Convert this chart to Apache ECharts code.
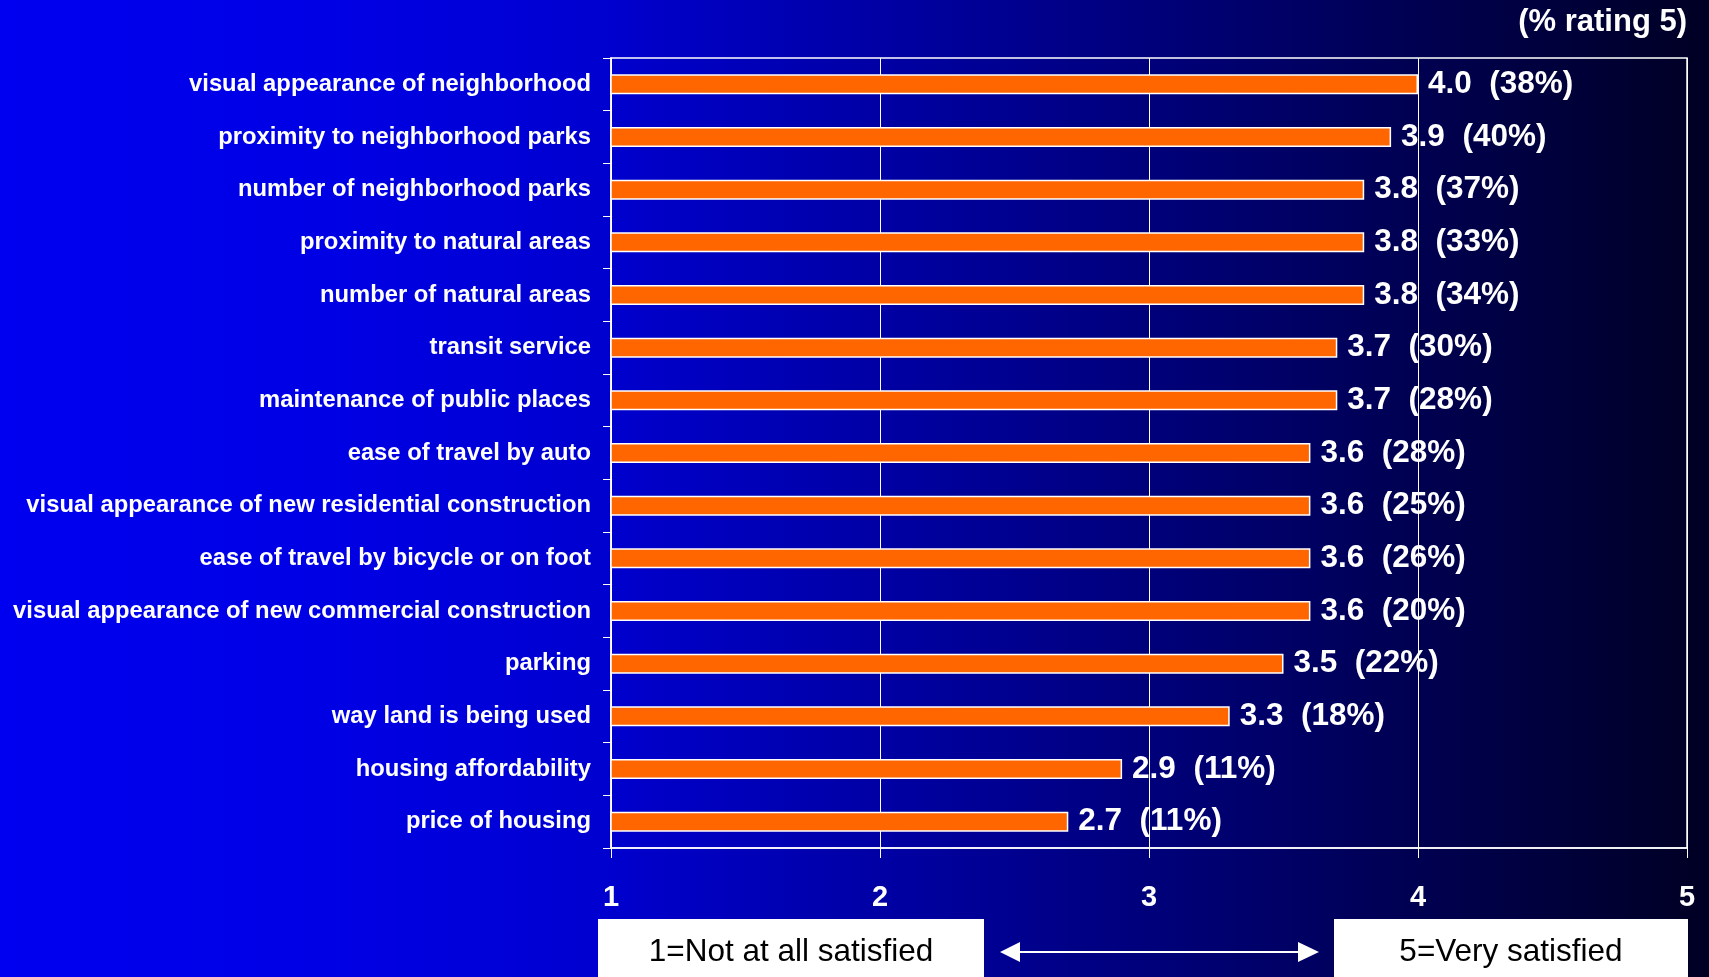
<!DOCTYPE html>
<html>
<head>
<meta charset="utf-8">
<script src="https://cdn.jsdelivr.net/npm/echarts@6/dist/echarts.min.js"></script>
<style>
html,body{margin:0;padding:0;width:100%;height:100%;overflow:hidden;}
#chart{width:1709px;height:977px;}
</style>
</head>
<body>
<div id="chart"></div>
<script>
const categories = [
  "visual appearance of neighborhood",
  "proximity to neighborhood parks",
  "number of neighborhood parks",
  "proximity to natural areas",
  "number of natural areas",
  "transit service",
  "maintenance of public places",
  "ease of travel by auto",
  "visual appearance of new residential construction",
  "ease of travel by bicycle or on foot",
  "visual appearance of new commercial construction",
  "parking",
  "way land is being used",
  "housing affordability",
  "price of housing"
];
const meanRatings = [4.0, 3.9, 3.8, 3.8, 3.8, 3.7, 3.7, 3.6, 3.6, 3.6, 3.6, 3.5, 3.3, 2.9, 2.7];
const pctRating5 = [38, 40, 37, 33, 34, 30, 28, 28, 25, 26, 20, 22, 18, 11, 11];
const xTicks = [1, 2, 3, 4, 5];
const titleText = "(% rating 5)";
const scaleLowText = "1=Not at all satisfied";
const scaleHighText = "5=Very satisfied";

const FONT = "'Liberation Sans', Arial, sans-serif";
const chart = echarts.init(document.getElementById('chart'), null, {renderer: 'canvas'});

const option = {
  backgroundColor: {
    type: 'linear', x: 0, y: 0, x2: 1, y2: 0,
    colorStops: [
      {offset: 0, color: 'rgb(0,0,240)'},
      {offset: 0.2, color: 'rgb(0,0,228)'},
      {offset: 0.35, color: 'rgb(0,0,208)'},
      {offset: 1, color: 'rgb(0,0,36)'}
    ]
  },
  animation: false,
  grid: {
    left: 611, right: 22, top: 58, bottom: 129,
    show: true, borderColor: '#ffffff', borderWidth: 1.5,
    backgroundColor: 'transparent'
  },
  xAxis: {
    type: 'value', min: xTicks[0], max: xTicks[xTicks.length - 1], interval: 1,
    axisLine: {show: true, lineStyle: {color: '#ffffff', width: 1.5}},
    axisTick: {show: true, length: 10, lineStyle: {color: '#ffffff', width: 1}},
    splitLine: {show: true, lineStyle: {color: '#ffffff', width: 1}},
    axisLabel: {
      color: '#ffffff', fontFamily: FONT, fontWeight: 'bold', fontSize: 29, margin: 35,
      formatter: v => xTicks.includes(v) ? String(v) : ''
    }
  },
  yAxis: {
    type: 'category', data: categories, inverse: true,
    axisLine: {show: true, lineStyle: {color: '#ffffff', width: 1.5}},
    axisTick: {show: true, length: 8, lineStyle: {color: '#ffffff', width: 1}},
    splitLine: {show: false},
    axisLabel: {
      color: '#ffffff', fontFamily: FONT, fontWeight: 'bold', fontSize: 23.8, margin: 20
    }
  },
  series: [{
    type: 'bar',
    data: meanRatings,
    barWidth: 20,
    itemStyle: {color: '#FF6600', borderColor: '#ffffff', borderWidth: 1.5},
    label: {
      show: true, position: 'right', distance: 10,
      color: '#ffffff', fontFamily: FONT, fontWeight: 'bold', fontSize: 31.5,
      formatter: p => meanRatings[p.dataIndex].toFixed(1) + '  (' + pctRating5[p.dataIndex] + '%)'
    }
  }],
  graphic: [
    {
      type: 'text', right: 22, top: 7,
      style: {text: titleText, fill: '#ffffff', font: 'bold 31px ' + FONT}
    },
    {
      type: 'rect', shape: {x: 598, y: 919, width: 386, height: 70},
      style: {fill: '#ffffff'}
    },
    {
      type: 'text', x: 791, y: 952,
      style: {text: scaleLowText, fill: '#000000', font: '31.5px ' + FONT, align: 'center', verticalAlign: 'middle'}
    },
    {
      type: 'rect', shape: {x: 1334, y: 919, width: 354, height: 70},
      style: {fill: '#ffffff'}
    },
    {
      type: 'text', x: 1511, y: 952,
      style: {text: scaleHighText, fill: '#000000', font: '31.5px ' + FONT, align: 'center', verticalAlign: 'middle'}
    },
    {
      type: 'polygon',
      shape: {points: [[1000,952],[1020,942],[1020,951],[1298,951],[1298,942],[1319,952],[1298,962],[1298,953],[1020,953],[1020,962]]},
      style: {fill: '#ffffff'}
    }
  ]
};
chart.setOption(option);
</script>
</body>
</html>
